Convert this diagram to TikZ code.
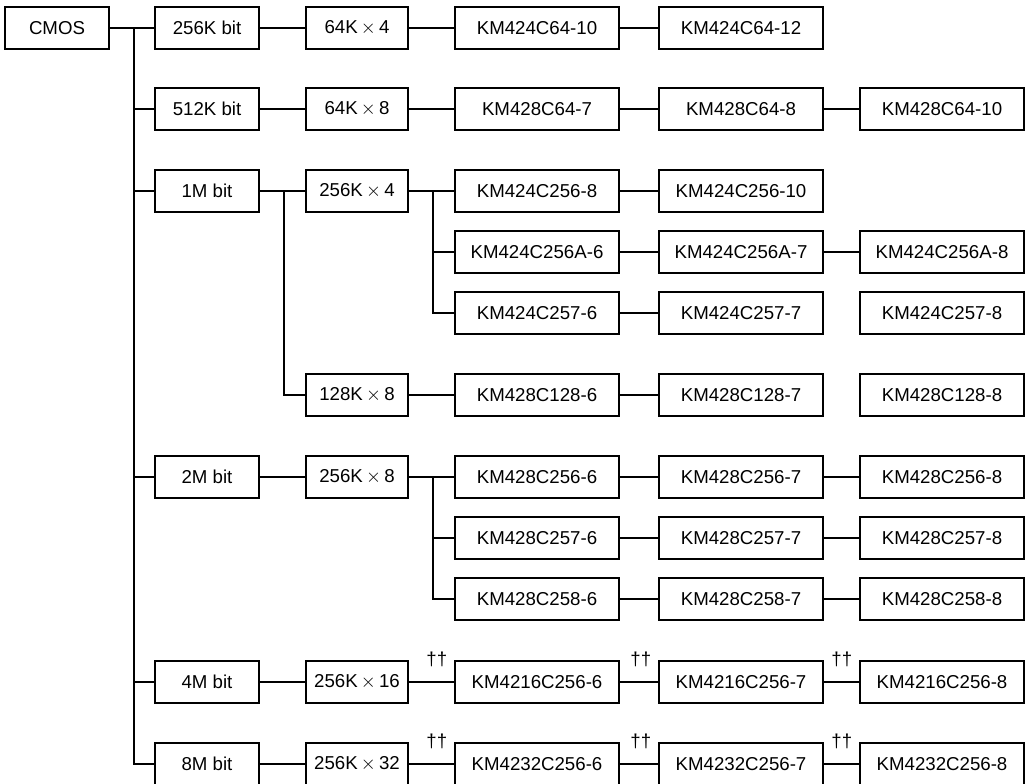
\documentclass[tikz,border=0pt]{standalone}
\usepackage{fontspec}
\setmainfont{Liberation Sans}
\usepackage{tikz}
\usetikzlibrary{positioning}
\tikzstyle{box_base}=[draw, line width=1.4pt, anchor=center, text centered, inner sep=0pt,
minimum height=31.5pt, font=\fontsize{14}{16}\selectfont]
\tikzstyle{box_bit}=[box_base, minimum width=78.5pt]
\tikzstyle{box_org}=[box_base, minimum width=76.5pt]
\tikzstyle{box_part}=[box_base, minimum width=123pt]
\tikzstyle{line}=[line width=0.8pt]
\tikzstyle{mark_dd}=[inner sep=0pt, font=\fontsize{14}{16}\selectfont]
\newcommand{\by}{$\,\times\,$}

\begin{document}
\begin{tikzpicture}[x=0.75pt, y=-0.75pt]
		\useasboundingbox (0,0) rectangle (1026,784);

		% root and bit sizes
		\node[box_base, minimum width=78pt] (cmos) at (57,28) {CMOS} ;
		\node[box_bit] (b256k) at (207,28) {256K bit} ;
		\draw[line] (cmos) -- (b256k) ;
		\node[box_bit] (b512k) at (207,109) {512K bit} ;
		\node[box_bit] (b1m) at (207,191) {1M bit} ;
		\node[box_bit] (b2m) at (207,477) {2M bit} ;
		\node[box_bit] (b4m) at (207,682) {4M bit} ;
		\node[box_bit] (b8m) at (207,764) {8M bit} ;
		\coordinate (t0) at (134,28) ;
		\foreach \n in {b512k,b1m,b2m,b4m,b8m}
			\draw[line] (t0) |- (\n.west) ;

		% 256K bit
		\node[box_org] (o64x4) at (357,28) {64K\by4} ;
		\draw[line] (b256k) -- (o64x4) ;
		\node[box_part] (k64a) at (537,28) {KM424C64-10} ;
		\draw[line] (o64x4) -- (k64a) ;
		\node[box_part] (k64b) at (741,28) {KM424C64-12} ;
		\draw[line] (k64a) -- (k64b) ;

		% 512K bit
		\node[box_org] (o64x8) at (357,109) {64K\by8} ;
		\draw[line] (b512k) -- (o64x8) ;
		\node[box_part] (k864a) at (537,109) {KM428C64-7} ;
		\draw[line] (o64x8) -- (k864a) ;
		\node[box_part] (k864b) at (741,109) {KM428C64-8} ;
		\draw[line] (k864a) -- (k864b) ;
		\node[box_part] (k864c) at (942,109) {KM428C64-10} ;
		\draw[line] (k864b) -- (k864c) ;

		% 1M bit
		\node[box_org] (o256x4) at (357,191) {256K\by4} ;
		\draw[line] (b1m) -- (o256x4) ;
		\node[box_org] (o128x8) at (357,395) {128K\by8} ;
		\coordinate (t1) at (284,191) ;
		\draw[line] (t1) |- (o128x8.west) ;

		\node[box_part] (k256a) at (537,191) {KM424C256-8} ;
		\draw[line] (o256x4) -- (k256a) ;
		\node[box_part] (k256b) at (741,191) {KM424C256-10} ;
		\draw[line] (k256a) -- (k256b) ;

		\node[box_part] (k256Aa) at (537,252) {KM424C256A-6} ;
		\node[box_part] (k256Ab) at (741,252) {KM424C256A-7} ;
		\draw[line] (k256Aa) -- (k256Ab) ;
		\node[box_part] (k256Ac) at (942,252) {KM424C256A-8} ;
		\draw[line] (k256Ab) -- (k256Ac) ;

		\node[box_part] (k257a) at (537,313) {KM424C257-6} ;
		\node[box_part] (k257b) at (741,313) {KM424C257-7} ;
		\draw[line] (k257a) -- (k257b) ;
		\node[box_part] (k257c) at (942,313) {KM424C257-8} ;

		\coordinate (t2) at (433,191) ;
		\foreach \n in {k256Aa,k257a}
			\draw[line] (t2) |- (\n.west) ;

		\node[box_part] (k128a) at (537,395) {KM428C128-6} ;
		\draw[line] (o128x8) -- (k128a) ;
		\node[box_part] (k128b) at (741,395) {KM428C128-7} ;
		\draw[line] (k128a) -- (k128b) ;
		\node[box_part] (k128c) at (942,395) {KM428C128-8} ;

		% 2M bit
		\node[box_org] (o256x8) at (357,477) {256K\by8} ;
		\draw[line] (b2m) -- (o256x8) ;
		\node[box_part] (k8256a) at (537,477) {KM428C256-6} ;
		\draw[line] (o256x8) -- (k8256a) ;
		\node[box_part] (k8256b) at (741,477) {KM428C256-7} ;
		\draw[line] (k8256a) -- (k8256b) ;
		\node[box_part] (k8256c) at (942,477) {KM428C256-8} ;
		\draw[line] (k8256b) -- (k8256c) ;

		\node[box_part] (k8257a) at (537,538) {KM428C257-6} ;
		\node[box_part] (k8257b) at (741,538) {KM428C257-7} ;
		\draw[line] (k8257a) -- (k8257b) ;
		\node[box_part] (k8257c) at (942,538) {KM428C257-8} ;
		\draw[line] (k8257b) -- (k8257c) ;

		\node[box_part] (k8258a) at (537,599) {KM428C258-6} ;
		\node[box_part] (k8258b) at (741,599) {KM428C258-7} ;
		\draw[line] (k8258a) -- (k8258b) ;
		\node[box_part] (k8258c) at (942,599) {KM428C258-8} ;
		\draw[line] (k8258b) -- (k8258c) ;

		\coordinate (t3) at (433,477) ;
		\foreach \n in {k8257a,k8258a}
			\draw[line] (t3) |- (\n.west) ;

		% 4M bit
		\node[box_org] (o256x16) at (357,682) {256K\by16} ;
		\draw[line] (b4m) -- (o256x16) ;
		\node[box_part] (k16a) at (537,682) {KM4216C256-6} ;
		\draw[line] (o256x16) -- (k16a) ;
		\node[box_part] (k16b) at (741,682) {KM4216C256-7} ;
		\draw[line] (k16a) -- (k16b) ;
		\node[box_part] (k16c) at (942,682) {KM4216C256-8} ;
		\draw[line] (k16b) -- (k16c) ;

		% 8M bit
		\node[box_org] (o256x32) at (357,764) {256K\by32} ;
		\draw[line] (b8m) -- (o256x32) ;
		\node[box_part] (k32a) at (537,764) {KM4232C256-6} ;
		\draw[line] (o256x32) -- (k32a) ;
		\node[box_part] (k32b) at (741,764) {KM4232C256-7} ;
		\draw[line] (k32a) -- (k32b) ;
		\node[box_part] (k32c) at (942,764) {KM4232C256-8} ;
		\draw[line] (k32b) -- (k32c) ;

		% double daggers
		\foreach \n in {k16a,k16b,k16c,k32a,k32b,k32c}
			\node[mark_dd, above left=-5pt and 5pt of \n.north west] (dd\n) {††} ;

	\end{tikzpicture}
\end{document}
